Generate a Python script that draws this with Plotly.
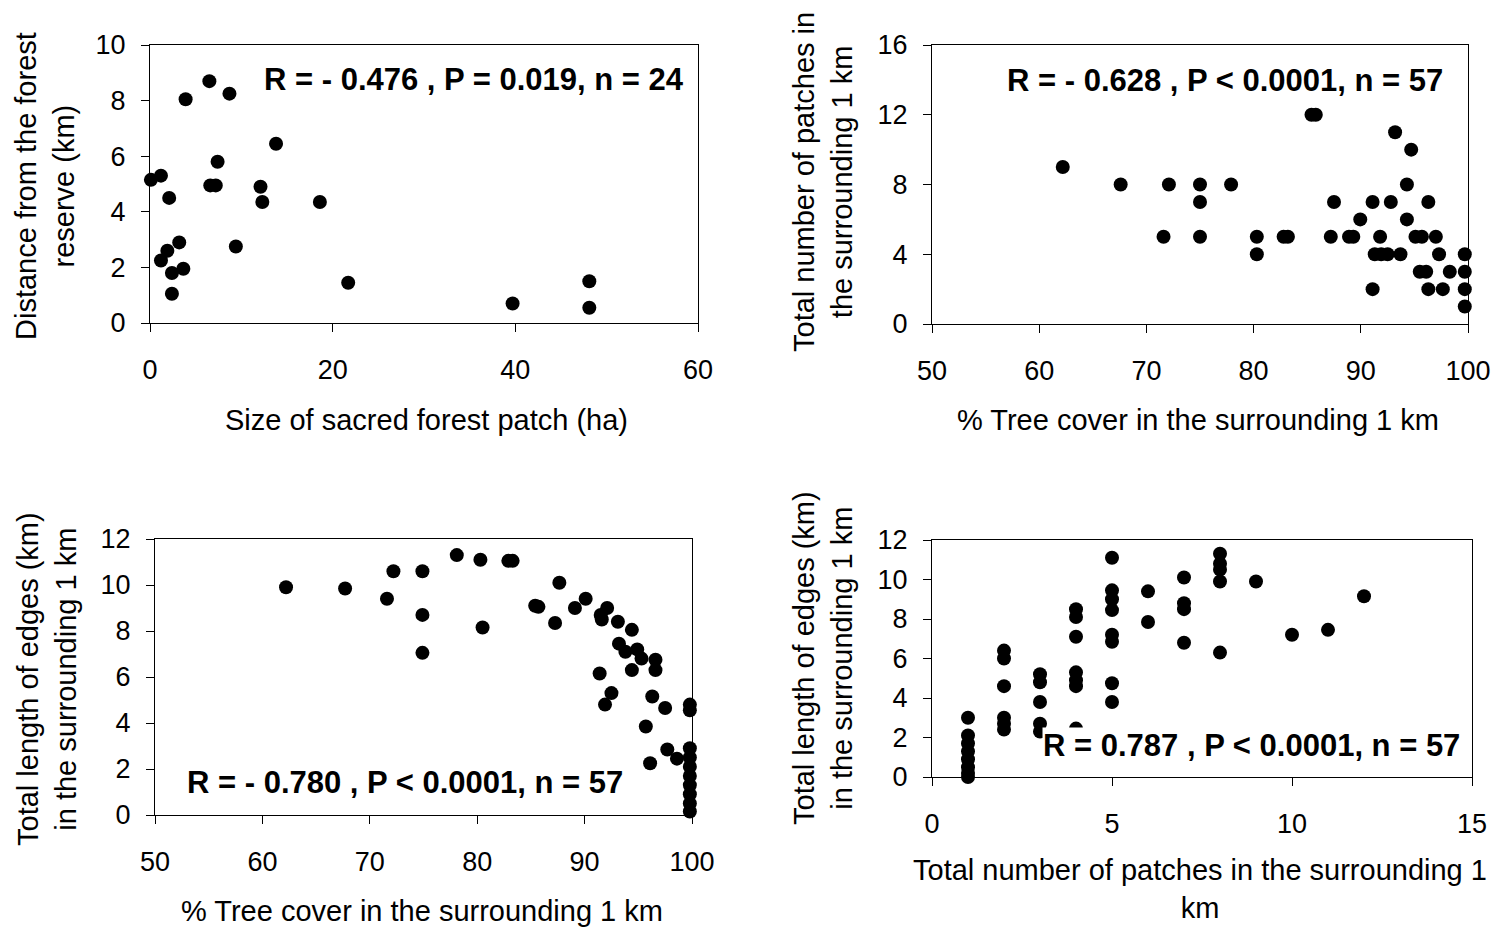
import plotly.graph_objects as go

# Panel A: sacred forest patch size vs distance from forest reserve
size_ha = [3.9, 6.5, 8.7, 13.8, 7.4, 0.1, 1.2, 6.6, 7.2, 2.1, 12.1, 12.3, 18.6,
           9.4, 3.2, 1.9, 1.2, 2.4, 3.65, 2.4, 21.7, 39.7, 48.1, 48.1]
dist_km = [8.05, 8.7, 8.25, 6.45, 5.8, 5.15, 5.3, 4.95, 4.95, 4.5, 4.9, 4.35, 4.35,
           2.75, 2.9, 2.6, 2.25, 1.8, 1.95, 1.05, 1.45, 0.7, 1.5, 0.55]

# Panel B: tree cover vs number of patches
cover_b = [62.2, 67.6, 72.1, 71.6, 75, 75, 75, 77.9, 80.3, 80.3, 82.8, 83.2, 85.4, 85.8,
           87.5, 87.2, 88.9, 89.3, 89.95, 91.1, 91.8, 91.3, 91.9, 92.5, 93.7, 91.1, 92.8,
           93.2, 94.7, 94.3, 94.3, 96.3, 95.1, 95.7, 97.0, 95.5, 96.1, 97.3, 98.3, 96.3,
           97.65, 99.7, 99.7, 99.7, 99.7]
patches_b = [9, 8, 8, 5, 8, 7, 5, 8, 5, 4, 5, 5, 12, 12,
             7, 5, 5, 5, 6, 7, 5, 4, 4, 4, 4, 2, 7,
             11, 10, 8, 6, 7, 5, 5, 5, 3, 3, 4, 3, 2,
             2, 4, 3, 2, 1]

# Panel C: tree cover vs edge length
cover_c = [62.2, 67.7, 72.2, 71.6, 74.9, 74.9, 74.9, 78.1, 80.3, 82.9, 83.3, 80.5, 87.65,
           85.4, 85.7, 87.25, 89.1, 90.1, 91.5, 92.1, 91.6, 93.1, 94.4, 93.2, 93.8, 94.9,
           95.3, 96.6, 96.6, 94.4, 91.4, 92.5, 91.9, 96.3, 97.5, 95.7, 97.7, 98.6, 96.1,
           99.8, 99.8, 99.8, 99.8, 99.8, 99.8, 99.8, 99.8, 99.8, 99.8]
edges_c = [9.9, 9.85, 10.6, 9.4, 10.6, 8.7, 7.05, 11.3, 11.1, 11.05, 11.05, 8.15, 10.1,
           9.1, 9.05, 8.35, 9.0, 9.4, 8.7, 9.0, 8.5, 8.4, 8.05, 7.45, 7.1, 7.2,
           6.8, 6.75, 6.3, 6.3, 6.15, 5.3, 4.8, 5.15, 4.65, 3.85, 2.85, 2.45, 2.25,
           4.8, 4.55, 2.9, 2.5, 2.1, 1.7, 1.3, 0.9, 0.5, 0.15]

# Panel D: number of patches vs edge length
patches_d = [1, 1, 1, 1, 1, 1, 1, 1,
             2, 2, 2, 2, 2, 2,
             3, 3, 3, 3, 3,
             4, 4, 4, 4, 4, 4, 4,
             5, 5, 5, 5, 5, 5, 5, 5,
             6, 6,
             7, 7, 7, 7,
             8, 8, 8, 8, 8,
             9, 10, 11, 12]
edges_d = [3.0, 2.1, 1.7, 1.3, 0.9, 0.5, 0.2, 0.0,
           6.4, 6.0, 4.6, 3.0, 2.7, 2.4,
           5.2, 4.8, 3.8, 2.7, 2.3,
           8.5, 8.1, 7.1, 5.3, 4.9, 4.6, 2.45,
           11.1, 9.45, 9.0, 8.45, 7.2, 6.85, 4.75, 3.8,
           9.4, 7.85,
           10.1, 8.8, 8.5, 6.8,
           11.3, 10.8, 10.5, 9.9, 6.3,
           9.9, 7.2, 7.45, 9.15]

W, H = 1507, 927
FONT = "Arial, Liberation Sans, sans-serif"


def fx(p):
    return p / W


def fy(p):
    return 1 - p / H


marker = dict(color="black", size=14, line=dict(width=0))

fig = go.Figure()
for xs, ys, n in [(size_ha, dist_km, ""), (cover_b, patches_b, "2"),
                  (cover_c, edges_c, "3"), (patches_d, edges_d, "4")]:
    fig.add_trace(go.Scatter(x=xs, y=ys, mode="markers", marker=marker,
                             xaxis="x" + n, yaxis="y" + n, cliponaxis=False,
                             showlegend=False, hoverinfo="x+y"))

axis_common = dict(showline=True, mirror=True, linecolor="black", linewidth=1.3,
                   ticks="outside", ticklen=8, tickwidth=1.2, tickcolor="black",
                   showgrid=False, zeroline=False, automargin=False,
                   tickfont=dict(family=FONT, size=27, color="black"))

# plot-area boxes in pixels: (left, right, top, bottom)
boxes = [(150, 698, 45, 323), (932, 1468, 45, 324), (155, 692, 539, 815), (932, 1472, 540, 777)]
xranges = [(0, 60, 20), (50, 100, 10), (50, 100, 10), (0, 15, 5)]
yranges = [(0, 10, 2), (0, 16, 4), (0, 12, 2), (0, 12, 2)]

layout = dict(width=W, height=H, autosize=False,
              margin=dict(l=0, r=0, t=0, b=0, pad=0, autoexpand=False),
              plot_bgcolor="white", paper_bgcolor="white", showlegend=False)
for i, (b, xr, yr) in enumerate(zip(boxes, xranges, yranges)):
    n = "" if i == 0 else str(i + 1)
    l, r, t, bt = b
    layout["xaxis" + n] = dict(axis_common, domain=[fx(l), fx(r)], range=[xr[0], xr[1]],
                               dtick=xr[2], tick0=xr[0], anchor="y" + n,
                               ticklabelstandoff=14)
    layout["yaxis" + n] = dict(axis_common, domain=[fy(bt), fy(t)], range=[yr[0], yr[1]],
                               dtick=yr[2], tick0=yr[0], anchor="x" + n,
                               ticklabelstandoff=10)
fig.update_layout(**layout)

title_font = dict(family=FONT, size=29, color="black")
stat_font = dict(family=FONT, size=31, color="black")

annotations = [
    # y-axis titles
    dict(x=fx(45), y=fy(186), text="Distance from the forest<br>reserve (km)", textangle=-90),
    dict(x=fx(823), y=fy(182), text="Total number of patches in<br>the surrounding 1 km", textangle=-90),
    dict(x=fx(47), y=fy(679), text="Total length of edges (km)<br>in the surrounding 1 km", textangle=-90),
    dict(x=fx(823), y=fy(658), text="Total length of edges (km)<br>in the surrounding 1 km", textangle=-90),
    # x-axis titles
    dict(x=fx(426), y=fy(420), text="Size of sacred forest patch (ha)"),
    dict(x=fx(1198), y=fy(420), text="% Tree cover in the surrounding 1 km"),
    dict(x=fx(422), y=fy(911), text="% Tree cover in the surrounding 1 km"),
    dict(x=fx(1200), y=fy(889), text="Total number of patches in the surrounding 1<br>km"),
]
for a in annotations:
    a.update(xref="paper", yref="paper", showarrow=False, font=title_font,
             xanchor="center", yanchor="middle")

stats = [
    dict(x=fx(474), y=fy(79), text="<b>R = - 0.476 , P = 0.019, n = 24</b>"),
    dict(x=fx(1225), y=fy(80), text="<b>R = - 0.628 , P < 0.0001, n = 57</b>"),
    dict(x=fx(405), y=fy(782), text="<b>R = - 0.780 , P < 0.0001, n = 57</b>"),
    dict(x=fx(1251), y=fy(745), text="<b>R = 0.787 , P < 0.0001, n = 57</b>", bgcolor="white"),
]
for a in stats:
    a.update(xref="paper", yref="paper", showarrow=False, font=stat_font,
             xanchor="center", yanchor="middle", borderpad=0)

fig.update_layout(annotations=annotations + stats)
fig.write_html("out.html",
               post_script="document.body.style.margin='0';document.body.style.overflow='hidden';")
